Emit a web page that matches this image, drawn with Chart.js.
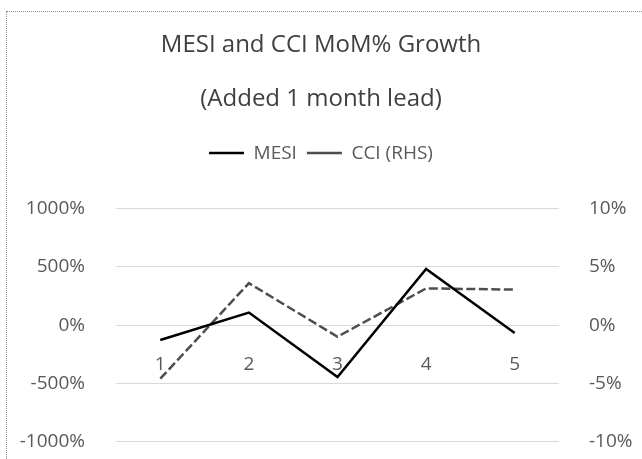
<!DOCTYPE html>
<html>
<head>
<meta charset="utf-8">
<script src="https://cdn.jsdelivr.net/npm/chart.js@4/dist/chart.umd.min.js"></script>
<style>
  html, body { margin: 0; padding: 0; background: #fff; }
  #wrap { position: relative; width: 642px; height: 459px; overflow: hidden; }
  #frame { position: absolute; left: 6px; top: 11px; width: 700px; height: 500px;
           border: 1px dotted #8f8f8f; box-sizing: border-box; }
  canvas { position: absolute; left: 0; top: 0; }
</style>
</head>
<body>
<div id="wrap">
  <div id="frame"></div>
  <!-- canvas runs past the frame's bottom edge; the wrapper clips it -->
  <canvas id="c" width="642" height="484"></canvas>
</div>
<script>
// Month index (with 1 month lead)
const months = ['1', '2', '3', '4', '5'];
// MoM % growth of MESI (left axis)
const mesiGrowth = [-128, 108, -445, 482, -68];
// MoM % growth of CCI (right axis)
const cciGrowth = [-4.6, 3.6, -1.0, 3.15, 3.05];
// Axis ticks (percent)
const leftTicks = [-1000, -500, 0, 500, 1000];
const rightTicks = [-10, -5, 0, 5, 10];

const FONT = "'Open Sans', sans-serif";
const TEXT = '#595959';

// Extra room between the legend row and the plot area
const legendGap = {
  id: 'legendGap',
  beforeLayout(chart) {
    const lg = chart.legend;
    if (lg && !lg._gapHooked) {
      lg._gapHooked = true;
      const baseFit = lg.fit;
      lg.fit = function () {
        baseFit.call(this);
        this.height += 36;
      };
    }
  }
};

new Chart(document.getElementById('c'), {
  type: 'line',
  plugins: [legendGap],
  data: {
    labels: months,
    datasets: [
      {
        label: 'MESI',
        data: mesiGrowth,
        yAxisID: 'y',
        borderColor: '#000000',
        backgroundColor: '#000000',
        borderWidth: 2.5,
        pointRadius: 0,
        pointStyle: 'line',
        tension: 0
      },
      {
        label: 'CCI (RHS)',
        data: cciGrowth,
        yAxisID: 'y1',
        borderColor: '#4d4d4d',
        backgroundColor: '#4d4d4d',
        borderWidth: 2.5,
        borderDash: [9, 3.5],
        pointRadius: 0,
        pointStyle: 'line',
        tension: 0
      }
    ]
  },
  options: {
    responsive: false,
    animation: false,
    layout: { padding: { left: 0, right: 0, top: 0, bottom: 0 } },
    plugins: {
      tooltip: { enabled: false },
      title: {
        display: true,
        text: 'MESI and CCI MoM% Growth',
        color: '#404040',
        font: { family: FONT, size: 24, weight: 'normal' },
        padding: { top: 31, bottom: 0 }
      },
      subtitle: {
        display: true,
        text: '(Added 1 month lead)',
        color: '#404040',
        font: { family: FONT, size: 24, weight: 'normal' },
        padding: { top: 25, bottom: 20 }
      },
      legend: {
        display: true,
        position: 'top',
        labels: {
          usePointStyle: true,
          pointStyleWidth: 35,
          color: TEXT,
          padding: 10,
          font: { family: FONT, size: 19 }
        }
      }
    },
    scales: {
      x: {
        type: 'category',
        position: { y: 0 },
        offset: true,
        grid: { display: false, drawTicks: false },
        border: { display: false },
        ticks: { color: TEXT, padding: 28, font: { family: FONT, size: 19 } }
      },
      y: {
        position: 'left',
        min: -1000,
        max: 1000,
        afterBuildTicks: s => { s.ticks = leftTicks.map(v => ({ value: v })); },
        afterFit: s => { s.width = 116; },
        grid: { color: '#d9d9d9', lineWidth: 1, drawTicks: false },
        border: { display: false },
        ticks: {
          color: TEXT,
          padding: 31,
          font: { family: FONT, size: 19 },
          callback: v => v + '%'
        }
      },
      y1: {
        position: 'right',
        min: -10,
        max: 10,
        afterBuildTicks: s => { s.ticks = rightTicks.map(v => ({ value: v })); },
        afterFit: s => { s.width = 83; },
        grid: { display: false, drawTicks: false },
        border: { display: false },
        ticks: {
          color: TEXT,
          padding: 30,
          font: { family: FONT, size: 19 },
          callback: v => v + '%'
        }
      }
    }
  }
});
</script>
</body>
</html>
